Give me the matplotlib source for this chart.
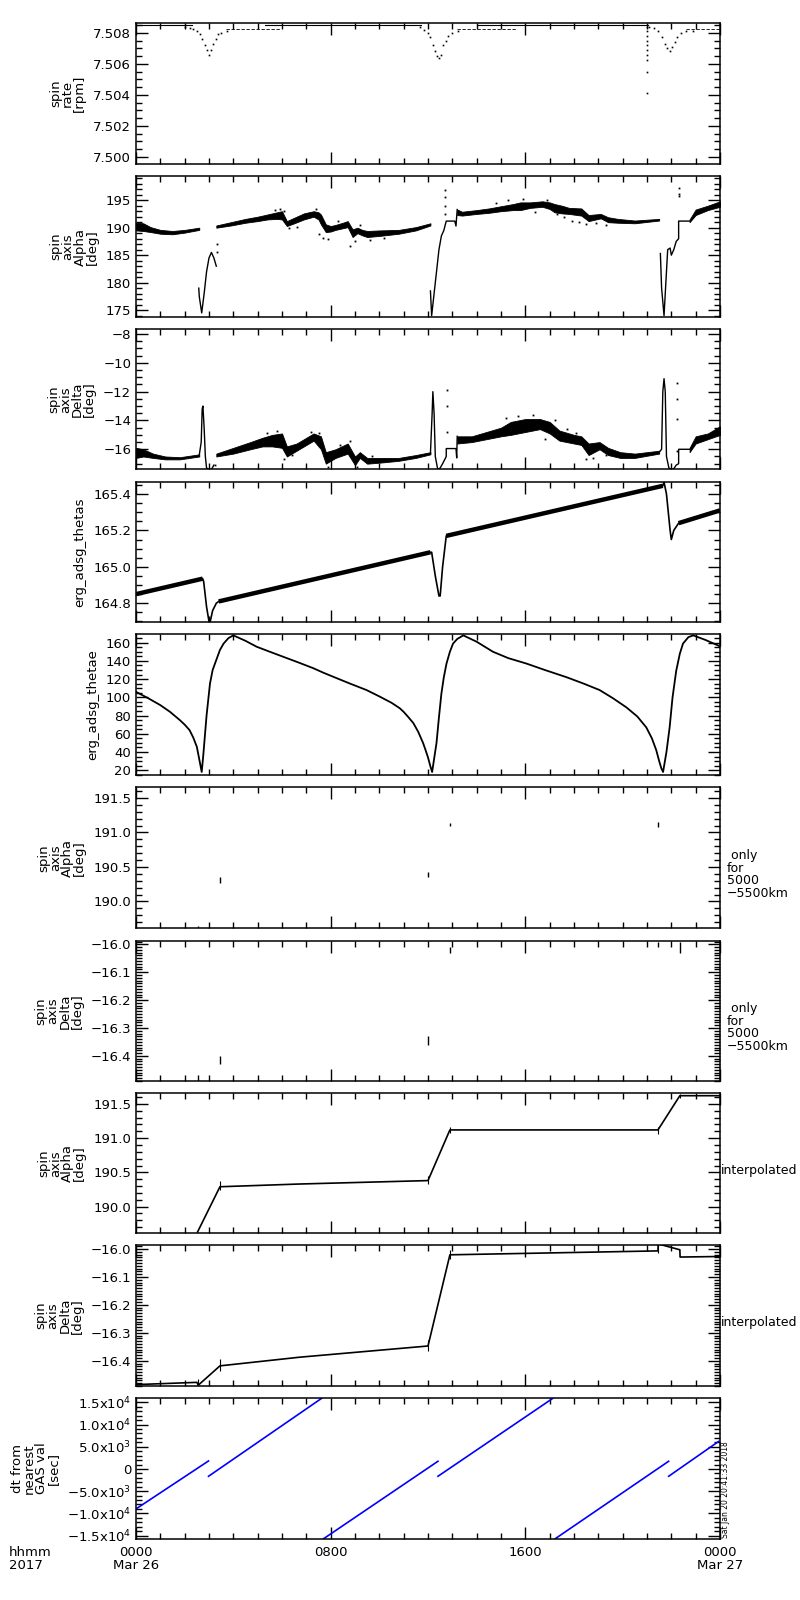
import numpy as np
import matplotlib
matplotlib.use('Agg')
import matplotlib.pyplot as plt
from matplotlib.ticker import MultipleLocator, FixedLocator, FuncFormatter, FixedFormatter

# ---- data (hours since 2017-03-26 00:00) ----
# panel 1: spin rate [rpm]
base_top_h = [[0, 2.3], [5.3, 11.7], [14.0, 21.05]]
base_top_v = 7.50848
base_low_h = [[3.7, 5.9], [13.2, 15.6], [22.6, 24.0]]
base_low_v = 7.50822
dip1_h = [2.0, 2.2, 2.35, 2.5, 2.63, 2.73, 2.83, 2.92, 3.0, 3.08, 3.17, 3.27, 3.38, 3.5, 3.72]
dip1_v = [7.5084, 7.5083, 7.50825, 7.5081, 7.5079, 7.5076, 7.5072, 7.5069, 7.5066, 7.5069, 7.5073, 7.5076, 7.5079, 7.5080, 7.5081]
dip2_h = [11.66, 11.85, 12.0, 12.1, 12.2, 12.3, 12.38, 12.45, 12.52, 12.62, 12.72, 12.83, 13.0, 13.24]
dip2_v = [7.5084, 7.5082, 7.5080, 7.5077, 7.5072, 7.5068, 7.5065, 7.5064, 7.5066, 7.5072, 7.5075, 7.5078, 7.5080, 7.5081]
drop_h = [20.98] * 10
drop_v = [7.5084, 7.5081, 7.5078, 7.5075, 7.5072, 7.5069, 7.5066, 7.50626, 7.5055, 7.5041]
dip3_h = [21.1, 21.3, 21.45, 21.6, 21.72, 21.82, 21.93, 22.03, 22.14, 22.25, 22.4, 22.6, 22.89]
dip3_v = [7.5084, 7.5083, 7.5081, 7.5077, 7.5073, 7.5070, 7.5068, 7.5071, 7.5074, 7.5077, 7.5080, 7.5081, 7.5081]

# panel 2: spin axis Alpha, noisy bands (h, lo, hi), eclipse curves, scattered points
al_bands = [
    ([0, 0.3, 0.6, 1.0, 1.5, 2.0, 2.6],
     [189.5, 189.4, 189.2, 188.9, 188.8, 189.1, 189.6],
     [190.9, 190.8, 190.1, 189.6, 189.4, 189.6, 190.0]),
    ([3.3, 3.9, 4.5, 5.0, 5.4, 5.8, 6.0, 6.2, 6.5, 6.9, 7.3, 7.5, 7.6, 7.8, 8.0, 8.2, 8.5, 8.7, 8.9, 9.1, 9.3, 9.5, 10.0, 10.8, 11.5, 12.1],
     [190.0, 190.4, 190.9, 191.2, 191.5, 191.6, 191.5, 190.3, 190.8, 191.5, 192.0, 191.5, 190.6, 189.2, 189.3, 189.6, 189.9, 190.1, 188.3, 189.0, 188.6, 188.3, 188.5, 188.9, 189.5, 190.4],
     [190.4, 191.0, 191.6, 192.0, 192.4, 192.8, 193.0, 191.2, 191.8, 192.6, 193.0, 192.8, 192.4, 190.6, 190.3, 190.5, 190.9, 191.2, 189.7, 190.0, 189.6, 189.4, 189.5, 189.6, 190.1, 190.8]),
    ([13.2, 13.4, 14.0, 14.5, 15.0, 15.5, 15.8, 16.2, 16.7, 17.0, 17.2, 17.5, 17.8, 18.3, 18.6, 19.1, 19.4, 19.8, 20.5, 21.5],
     [192.3, 192.2, 192.5, 192.7, 193.0, 193.2, 193.2, 193.6, 193.8, 193.4, 192.8, 192.6, 192.5, 192.2, 191.2, 191.7, 191.0, 190.9, 190.8, 191.3],
     [193.3, 192.9, 193.2, 193.5, 193.9, 194.3, 194.6, 194.6, 194.8, 194.6, 194.3, 194.0, 193.6, 193.5, 192.3, 192.5, 191.9, 191.6, 191.3, 191.6]),
    ([22.75, 23.0, 23.5, 24.0],
     [191.0, 192.3, 193.2, 193.8],
     [191.5, 193.3, 194.0, 194.8]),
]
al_curves = [
    ([2.58, 2.6, 2.65, 2.7, 2.8, 2.9, 3.0, 3.1, 3.2, 3.3],
     [179.0, 177.5, 176.0, 174.5, 178.0, 182.0, 184.5, 185.5, 184.5, 183.0]),
    ([12.1, 12.15, 12.25, 12.35, 12.45, 12.55, 12.65, 12.75, 13.1, 13.15, 13.2],
     [178.5, 174.0, 178.0, 182.0, 186.0, 188.5, 189.5, 191.2, 191.2, 190.3, 193.3]),
    ([21.55, 21.6, 21.7, 21.8, 21.85, 21.95, 22.0, 22.1, 22.2, 22.3, 22.3, 22.75],
     [185.3, 179.0, 174.0, 182.0, 186.0, 186.3, 185.0, 186.0, 187.5, 188.0, 191.2, 191.2]),
]
al_dots_h = [3.32, 3.32, 12.7, 12.7, 12.7, 12.7, 22.3, 22.3, 22.3,
             5.7, 5.9, 6.1, 6.3, 6.6, 7.4, 7.5, 7.7, 7.9, 8.3, 8.8, 9.0, 9.2, 9.6, 10.2,
             14.8, 15.3, 15.9, 16.4, 16.9, 17.3, 17.6, 17.9, 18.2, 18.5, 18.9, 19.3]
al_dots_v = [185.5, 187.0, 196.8, 195.5, 194.0, 192.5, 197.3, 196.2, 195.8,
             193.2, 193.4, 193.1, 189.9, 190.2, 193.4, 188.8, 188.2, 187.9, 191.2, 186.6, 187.5, 190.4, 187.8, 188.1,
             194.5, 195.0, 195.2, 192.8, 195.1, 192.4, 191.9, 191.3, 191.0, 190.6, 190.8, 190.5]

# panel 3: spin axis Delta
de_bands = [
    ([0, 0.3, 0.7, 1.2, 1.8, 2.6],
     [-16.6, -16.5, -16.6, -16.7, -16.7, -16.5],
     [-15.9, -16.0, -16.3, -16.5, -16.55, -16.35]),
    ([3.3, 4.0, 4.7, 5.2, 5.6, 6.0, 6.2, 6.6, 7.0, 7.3, 7.6, 7.8, 8.2, 8.7, 9.0, 9.2, 9.5, 10.2, 10.8, 11.5, 12.1],
     [-16.5, -16.3, -16.0, -15.8, -15.8, -15.9, -16.5, -16.1, -15.7, -15.4, -16.0, -17.0, -16.6, -16.3, -17.1, -16.6, -17.0, -16.9, -16.8, -16.6, -16.35],
     [-16.3, -15.9, -15.5, -15.2, -15.0, -14.9, -15.8, -15.6, -15.2, -14.9, -15.1, -16.2, -16.0, -15.6, -16.5, -16.2, -16.6, -16.6, -16.6, -16.4, -16.2]),
    ([13.2, 13.8, 14.4, 15.0, 15.4, 16.0, 16.6, 17.0, 17.4, 18.0, 18.3, 18.6, 19.05, 19.4, 19.9, 20.5, 21.5],
     [-15.6, -15.5, -15.3, -15.1, -15.0, -14.8, -14.6, -14.9, -15.4, -15.6, -15.7, -16.4, -16.0, -16.4, -16.6, -16.6, -16.3],
     [-15.1, -15.1, -14.8, -14.5, -14.1, -13.9, -13.9, -14.1, -14.7, -15.0, -15.1, -15.6, -15.5, -15.9, -16.2, -16.3, -16.1]),
    ([22.75, 23.0, 23.5, 24.0],
     [-16.2, -15.6, -15.3, -15.0],
     [-15.9, -15.1, -14.9, -14.4]),
]
de_curves = [
    ([2.6, 2.68, 2.72, 2.75, 2.8, 2.85, 2.9, 3.0, 3.1, 3.2],
     [-16.4, -15.5, -13.2, -13.0, -14.5, -16.5, -17.3, -17.4, -17.4, -17.1]),
    ([12.1, 12.17, 12.2, 12.25, 12.3, 12.4, 12.5, 12.6, 12.75, 12.75, 13.15, 13.18, 13.2],
     [-16.3, -13.5, -12.0, -13.5, -16.5, -17.4, -17.3, -17.0, -16.5, -15.95, -15.95, -16.6, -15.1]),
    ([21.5, 21.6, 21.65, 21.7, 21.75, 21.8, 21.9, 22.0, 22.1, 22.2, 22.3, 22.3, 22.75],
     [-16.2, -16.0, -12.0, -11.1, -12.0, -16.5, -17.3, -17.4, -17.35, -17.1, -17.0, -16.0, -16.0]),
]
de_dots_h = [3.25, 12.8, 12.8, 12.8, 22.25, 22.25, 22.25, 22.25,
             5.4, 5.8, 6.1, 6.4, 7.2, 7.5, 7.9, 8.4, 8.8, 9.1, 9.7,
             15.2, 15.7, 16.3, 16.8, 17.2, 17.7, 18.1, 18.5, 18.8, 19.3]
de_dots_v = [-17.1, -11.9, -13.0, -14.8, -11.4, -12.5, -13.9, -16.1,
             -14.9, -14.7, -16.7, -16.4, -14.8, -14.9, -17.2, -15.7, -15.4, -17.2, -16.5,
             -13.8, -13.7, -13.6, -15.3, -14.0, -14.6, -14.9, -16.7, -16.6, -16.4]

# panel 4: erg_adsg_thetas (eclipse dips as thin line, linear parts as thick band)
ts_h = [0, 2.74, 2.78, 2.9, 3.0, 3.05, 3.15, 3.3, 3.4, 12.1, 12.15, 12.3, 12.45, 12.5, 12.6, 12.75,
        21.65, 21.7, 21.8, 21.95, 22.0, 22.1, 22.3, 24.0]
ts_v = [164.85, 164.935, 164.92, 164.78, 164.70, 164.70, 164.76, 164.80, 164.81, 165.08, 165.08, 164.95,
        164.84, 164.84, 165.0, 165.17, 165.445, 165.465, 165.40, 165.20, 165.15, 165.20, 165.24, 165.31]
ts_lin_h = [[0, 2.74], [3.4, 12.1], [12.75, 21.65], [22.3, 24.0]]
ts_lin_v = [[164.85, 164.935], [164.81, 165.08], [165.17, 165.445], [165.24, 165.31]]

# panel 5: erg_adsg_thetae
te_h = [0, 0.5, 1.0, 1.4, 1.8, 2.0, 2.2, 2.35, 2.5, 2.6, 2.7, 2.76, 2.9, 3.04, 3.15, 3.3, 3.45, 3.6, 3.8, 4.0,
        4.5, 4.96, 5.5, 6.05, 6.7, 7.3, 7.7, 8.1, 8.8, 9.47, 10.0, 10.5, 10.84, 11.0, 11.2, 11.4, 11.6, 11.8,
        11.9, 12.0, 12.1, 12.17, 12.35, 12.45, 12.55, 12.65, 12.76, 12.9, 13.03, 13.2, 13.45,
        14.0, 14.67, 15.3, 16.05, 16.8, 17.7, 18.4, 19.05, 19.6, 20.15, 20.6, 20.97, 21.2, 21.38, 21.5,
        21.59, 21.66, 21.8, 21.93, 22.05, 22.2, 22.35, 22.48, 22.7, 22.9, 23.4, 24.0]
te_v = [106, 99, 91.4, 84, 75, 70, 64, 56, 45.7, 32, 18, 34.8, 80, 115, 130, 141, 152, 159, 165, 168,
        162, 155.5, 150, 144.5, 138, 131.8, 127, 122.6, 115, 108, 101, 94, 88, 84, 78, 71.6, 62, 49.7,
        42, 34, 24, 18, 50, 78, 104, 122, 137, 150, 159, 164, 168,
        161, 150, 143, 137, 130, 122, 115, 108, 99, 89, 79, 67, 55, 42, 30,
        22, 18, 40, 67, 100, 129, 148, 159, 166, 168, 163, 156]

# panels 6/7: values only for 5000-5500 km (h, lo, hi)
al_only = [(2.56, 189.60, 189.64), (3.45, 190.26, 190.35), (12.0, 190.35, 190.42),
           (12.9, 191.09, 191.14), (21.45, 191.08, 191.15)]
de_only = [(2.56, -16.49, -16.47), (3.45, -16.43, -16.40), (12.0, -16.36, -16.33),
           (12.9, -16.03, -16.01), (21.45, -16.01, -15.99), (22.35, -16.03, -15.99)]

# panels 8/9: interpolated
al_int_h = [2.53, 3.45, 6.73, 12.0, 12.9, 21.45, 22.35, 24.0]
al_int_v = [189.63, 190.29, 190.33, 190.38, 191.12, 191.12, 191.62, 191.62]
de_int_h = [0, 2.5, 2.56, 3.45, 6.73, 12.0, 12.9, 21.45, 21.46, 22.35, 22.36, 24.0]
de_int_v = [-16.485, -16.477, -16.487, -16.418, -16.387, -16.347, -16.021, -16.007, -15.982, -16.003, -16.029, -16.027]

# panel 10: dt from nearest GAS val [sec]
dt_segs = [
    ([0, 2.98], [-9000, 1800]),
    ([2.98, 7.63], [-1650, 15900]),
    ([7.71, 12.41], [-15700, 1730]),
    ([12.41, 17.13], [-1650, 15900]),
    ([17.23, 21.89], [-15700, 1730]),
    ([21.89, 23.94], [-1650, 6180]),
]
dt_ticks = [-15000, -10000, -5000, 0, 5000, 10000, 15000]
dt_labels = ['\u22121.5x10$^4$', '\u22121.0x10$^4$', '\u22125.0x10$^3$', '0',
             '5.0x10$^3$', '1.0x10$^4$', '1.5x10$^4$']

x_ticks = [0, 8, 16, 24]
x_labels = ['0000\nMar 26', '0800', '1600', '0000\nMar 27']

# ---- figure ----
plt.rcParams['font.family'] = ['DejaVu Sans']
plt.rcParams['mathtext.fontset'] = 'dejavusans'
plt.rcParams['mathtext.default'] = 'regular'
fig = plt.figure(figsize=(8, 16), dpi=100)

tops = [23.3, 176, 329.3, 481.7, 634, 787.3, 940.7, 1093.3, 1245.3, 1398.3]
bots = [164, 317.3, 469.3, 622, 775, 928.3, 1081, 1233.3, 1386, 1538.7]
L, R = 136, 720
axs = []
for t, b in zip(tops, bots):
    ax = fig.add_axes([L / 800, 1 - b / 1600, (R - L) / 800, (b - t) / 1600])
    ax.set_xlim(0, 24)
    ax.xaxis.set_major_locator(FixedLocator(x_ticks))
    ax.xaxis.set_minor_locator(MultipleLocator(1))
    ax.tick_params(which='both', direction='in', top=True, right=True, width=1, labelsize=9.5)
    ax.tick_params(which='major', length=8.5)
    ax.tick_params(which='minor', length=4.5)
    ax.tick_params(axis='x', labelbottom=False)
    for s in ax.spines.values():
        s.set_linewidth(1.1)
    axs.append(ax)

def ylab(ax, txt):
    ax.set_ylabel(txt, fontsize=9.5, linespacing=0.9, labelpad=5)

def yaxis(ax, lo, hi, major, minor, fmt):
    ax.set_ylim(lo, hi)
    ax.yaxis.set_major_locator(MultipleLocator(major))
    ax.yaxis.set_minor_locator(MultipleLocator(minor))
    ax.yaxis.set_major_formatter(FuncFormatter(lambda v, p: (fmt % v).replace('-', '\u2212')))

k = 'black'
# 1
ax = axs[0]
for seg in base_top_h:
    ax.plot(seg, [base_top_v] * 2, color=k, lw=0.8)
for seg in base_low_h:
    ax.plot(seg, [base_low_v] * 2, color=k, lw=0.6, ls=(0, (4, 2)))
for hh, vv in [(dip1_h, dip1_v), (dip2_h, dip2_v), (drop_h, drop_v), (dip3_h, dip3_v)]:
    ax.plot(hh, vv, 's', color=k, ms=1.2, mew=0)
yaxis(ax, 7.49955, 7.50861, 0.002, 0.0005, '%.3f')
ylab(ax, 'spin\nrate\n[rpm]')

# 2
ax = axs[1]
for hh, lo, hi in al_bands:
    ax.fill_between(hh, lo, hi, color=k, lw=0.6)
for hh, vv in al_curves:
    ax.plot(hh, vv, color=k, lw=1)
ax.plot(al_dots_h, al_dots_v, 's', color=k, ms=1.3, mew=0)
yaxis(ax, 173.7, 199.4, 5, 1, '%d')
ylab(ax, 'spin\naxis\nAlpha\n[deg]')

# 3
ax = axs[2]
for hh, lo, hi in de_bands:
    ax.fill_between(hh, lo, hi, color=k, lw=0.6)
for hh, vv in de_curves:
    ax.plot(hh, vv, color=k, lw=1)
ax.plot(de_dots_h, de_dots_v, 's', color=k, ms=1.3, mew=0)
yaxis(ax, -17.39, -7.67, 2, 0.5, '%d')
ylab(ax, 'spin\naxis\nDelta\n[deg]')

# 4
ax = axs[3]
ax.plot(ts_h, ts_v, color=k, lw=1.2)
for hh, vv in zip(ts_lin_h, ts_lin_v):
    ax.plot(hh, vv, color=k, lw=3.2, solid_capstyle='butt')
yaxis(ax, 164.697, 165.4676, 0.2, 0.05, '%.1f')
ylab(ax, 'erg_adsg_thetas')

# 5
ax = axs[4]
ax.plot(te_h, te_v, color=k, lw=1.3)
yaxis(ax, 14.7, 169.5, 20, 5, '%d')
ylab(ax, 'erg_adsg_thetae')

# 6, 8
for i in (5, 7):
    yaxis(axs[i], 189.61, 191.655, 0.5, 0.1, '%.1f')
    ylab(axs[i], 'spin\naxis\nAlpha\n[deg]')
for hh, lo, hi in al_only:
    axs[5].vlines(hh, lo, hi, color=k, lw=1)
axs[7].plot(al_int_h, al_int_v, color=k, lw=1.2)
for hh, lo, hi in al_only[1:]:
    axs[7].vlines(hh, lo - 0.02, hi + 0.02, color=k, lw=0.8)
axs[7].vlines(22.35, 191.58, 191.65, color=k, lw=0.8)

# 7, 9
for i in (6, 8):
    yaxis(axs[i], -16.49, -15.987, 0.1, 0.01, '%.1f')
    ylab(axs[i], 'spin\naxis\nDelta\n[deg]')
for hh, lo, hi in de_only:
    axs[6].vlines(hh, lo, hi, color=k, lw=1)
axs[8].plot(de_int_h, de_int_v, color=k, lw=1.2)
for hh, lo, hi in de_only[:5]:
    axs[8].vlines(hh, lo - 0.005, hi + 0.005, color=k, lw=0.8)

for i in (5, 6):
    axs[i].text(1.012, 0.56, ' only\nfor\n5000\n\u22125500km', transform=axs[i].transAxes,
                ha='left', va='top', fontsize=9, linespacing=0.95)
for i in (7, 8):
    axs[i].text(1.001, 0.45, 'interpolated', transform=axs[i].transAxes,
                ha='left', va='center', fontsize=9)

# 10
ax = axs[9]
for hh, vv in dt_segs:
    ax.plot(hh, vv, color='#0000ff', lw=1.2)
ax.set_ylim(-15700, 15900)
ax.yaxis.set_major_locator(FixedLocator(dt_ticks))
ax.yaxis.set_major_formatter(FixedFormatter(dt_labels))
ax.yaxis.set_minor_locator(MultipleLocator(1000))
ylab(ax, 'dt from\nnearest\nGAS val\n[sec]')
ax.tick_params(axis='x', labelbottom=True, pad=5)
ax.set_xticklabels(x_labels, linespacing=1.0)

fig.text(9 / 800, 1 - 1546 / 1600, 'hhmm\n2017', ha='left', va='top', fontsize=9.5, linespacing=1.0)
fig.text(721 / 800, 1 - 1538 / 1600, 'Sat Jan 20 20:41:33 2018', rotation=90,
         ha='left', va='bottom', fontsize=5.5)

fig.savefig('out.png', dpi=100)
